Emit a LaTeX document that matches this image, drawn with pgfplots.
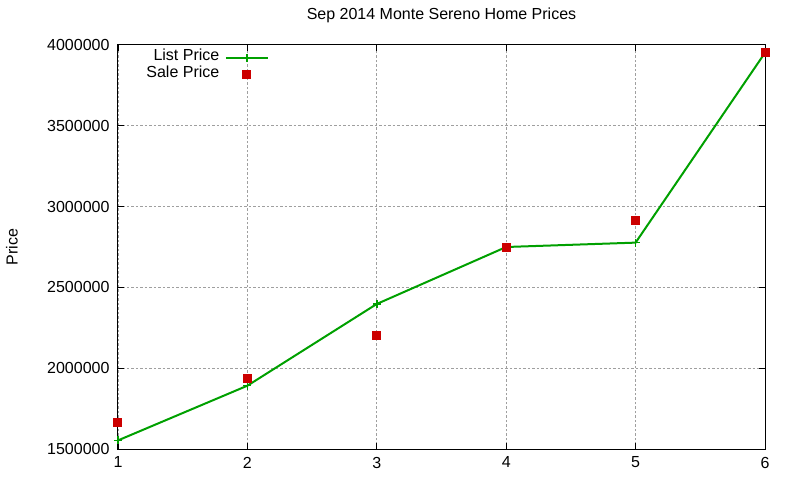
\documentclass[border=0pt]{standalone}
\usepackage{fontspec}
\setmainfont{Liberation Sans}
\usepackage{pgfplots}
\pgfplotsset{compat=1.18}

\definecolor{listgreen}{HTML}{00A000}
\definecolor{salered}{HTML}{CC0000}

% gnuplot-style legend sample: 42bp line with mark in the middle
\pgfplotsset{gpleg/.style={legend image code/.code={%
  \draw[mark repeat=2,mark phase=2,##1] plot coordinates {(0bp,0bp)(21bp,0bp)(42bp,0bp)};}}}

\begin{document}
\fontsize{16bp}{19bp}\selectfont
\begin{tikzpicture}
\begin{axis}[
    scale only axis,
    width=647bp, height=404.6bp,
    xmin=1, xmax=6,
    ymin=1500000, ymax=4000000,
    xtick={1,2,3,4,5,6},
    ytick={1500000,2000000,2500000,3000000,3500000,4000000},
    scaled y ticks=false,
    /pgf/number format/assume math mode=true,
    yticklabel style={/pgf/number format/fixed, /pgf/number format/1000 sep={}, xshift=-3bp},
    xticklabel style={yshift=-2bp},
    title={Sep 2014 Monte Sereno Home Prices},
    title style={at={(axis description cs:0.5,1)}, anchor=base, yshift=19.3bp},
    ylabel={Price},
    ylabel style={at={(axis description cs:-0.1638,0.5)}, anchor=center},
    grid=major,
    major grid style={dash pattern=on 2.5bp off 2bp, color=gray!75, line width=0.8bp},
    tick align=inside,
    major tick length=6bp,
    tick style={black, line width=0.8bp},
    axis line style={line width=1bp},
    legend cell align=right,
    legend plot pos=right,
    legend style={draw=none, fill=none, inner sep=0pt, anchor=north east,
        at={(axis description cs:0.2334,0.9886)},
        /tikz/column sep=5bp,
        nodes={inner sep=0.5bp, text height=10.8bp, text depth=4.7bp}},
]
\addplot[gpleg, color=listgreen, line width=2bp, mark=+, mark size=4bp,
    mark options={line width=1.5bp}]
    coordinates {(1,1555000)(2,1893000)(3,2398000)(4,2750000)(5,2777000)(6,3950000)};
\addlegendentry{List Price}

\addplot[only marks, gpleg, mark=square*, mark size=4bp, color=salered,
    mark options={draw=salered, fill=salered, line width=0pt}]
    coordinates {(1,1668000)(2,1935000)(3,2202000)(4,2746000)(5,2911000)(6,3949000)};
\addlegendentry{Sale Price}
\end{axis}
\pgfresetboundingbox
\path[use as bounding box] (-118bp,-30.7bp) rectangle (682bp,449.3bp);
\end{tikzpicture}
\end{document}
